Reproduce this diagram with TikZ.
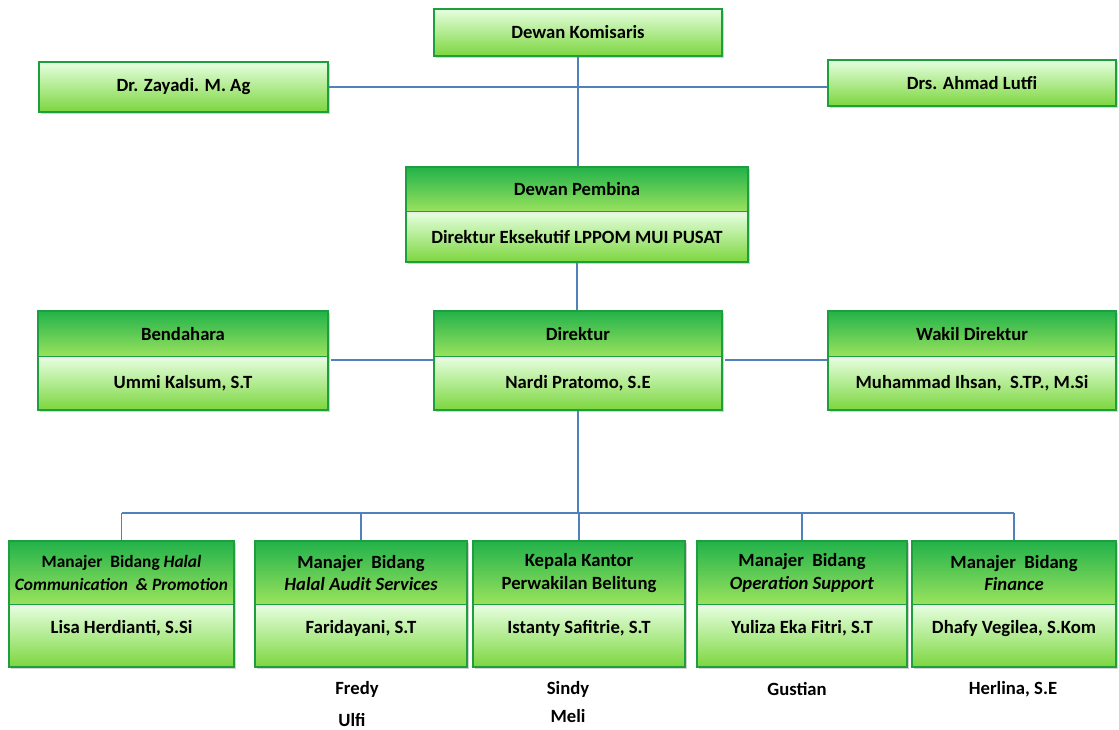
\documentclass[tikz,border=0pt]{standalone}
\usepackage{fontspec}
\setmainfont{Carlito}
\usetikzlibrary{shadows,backgrounds}

\definecolor{boxedge}{HTML}{1E9E3C}
\definecolor{hdtop}{HTML}{22B24A}
\definecolor{hdbot}{HTML}{9BE35E}
\definecolor{bdtop}{HTML}{E6FFE0}
\definecolor{bdbot}{HTML}{7CD63E}
\definecolor{linkblue}{HTML}{4F81BD}

\tikzset{
  box/.style={draw=boxedge, line width=0.9pt, inner sep=1pt, align=center,
    font=\bfseries\fontsize{14}{17}\selectfont,
    drop shadow={shadow xshift=1.2pt, shadow yshift=-1.2pt, opacity=0.35}},
  head/.style={box, top color=hdtop, bottom color=hdbot},
  body/.style={box, top color=bdtop, bottom color=bdbot},
  link/.style={draw=linkblue, line width=0.8pt},
  staff/.style={font=\bfseries\fontsize{14}{17}\selectfont, inner sep=0pt},
  raise/.style={text height=10pt, text depth=14pt},
}

\begin{document}
\begin{tikzpicture}[x=0.75pt, y=-0.75pt]
\useasboundingbox (0,0) rectangle (1119,729);

% top level
\node[body, minimum width=0.75*288pt, minimum height=0.75*47pt] (kom) at (578,32.5) {Dewan Komisaris};
\node[body, minimum width=0.75*289pt, minimum height=0.75*50pt] (zay) at (183.5,87) {Dr. Zayadi. M. Ag};
\node[body, minimum width=0.75*288pt, minimum height=0.75*46pt] (lut) at (972,83) {Drs. Ahmad Lutfi};

% advisory board
\node[head, minimum width=0.75*342pt, minimum height=0.75*45pt] (pembH) at (577,189.5) {Dewan Pembina};
\node[body, minimum width=0.75*342pt, minimum height=0.75*50pt] (pembB) at (577,237) {Direktur Eksekutif LPPOM MUI PUSAT};

% directors
\node[head, minimum width=0.75*290pt, minimum height=0.75*46pt] (benH) at (183,334) {Bendahara};
\node[body, minimum width=0.75*290pt, minimum height=0.75*53pt] (benB) at (183,383.5) {Ummi Kalsum, S.T};
\node[head, minimum width=0.75*288pt, minimum height=0.75*46pt] (dirH) at (578,334) {Direktur};
\node[body, minimum width=0.75*288pt, minimum height=0.75*53pt] (dirB) at (578,383.5) {Nardi Pratomo, S.E};
\node[head, minimum width=0.75*288pt, minimum height=0.75*46pt] (wakH) at (972,334) {Wakil Direktur};
\node[body, minimum width=0.75*288pt, minimum height=0.75*53pt] (wakB) at (972,383.5) {Muhammad Ihsan,\ \ S.TP., M.Si};

% managers
\node[head, minimum width=0.75*225pt, minimum height=0.75*64pt, font=\bfseries\fontsize{13}{17}\selectfont] (m1H) at (121.5,573)
  {Manajer\ \ Bidang \textit{Halal}\\\textit{Communication\ \ \& Promotion}};
\node[body, raise, minimum width=0.75*225pt, minimum height=0.75*62pt] (m1B) at (121.5,636) {Lisa Herdianti, S.Si};
\node[head, minimum width=0.75*212pt, minimum height=0.75*64pt] (m2H) at (361,573)
  {Manajer\ \ Bidang\\\textit{Halal Audit Services}};
\node[body, raise, minimum width=0.75*212pt, minimum height=0.75*62pt] (m2B) at (361,636) {Faridayani, S.T};
\node[head, minimum width=0.75*212pt, minimum height=0.75*64pt] (m3H) at (579,573)
  {Kepala Kantor\\Perwakilan Belitung};
\node[body, raise, minimum width=0.75*212pt, minimum height=0.75*62pt] (m3B) at (579,636) {Istanty Safitrie, S.T};
\node[head, minimum width=0.75*210pt, minimum height=0.75*64pt] (m4H) at (802,573)
  {Manajer\ \ Bidang\\\textit{Operation Support}};
\node[body, raise, minimum width=0.75*210pt, minimum height=0.75*62pt] (m4B) at (802,636) {Yuliza Eka Fitri, S.T};
\node[head, minimum width=0.75*204pt, minimum height=0.75*64pt] (m5H) at (1014,573)
  {Manajer\ \ Bidang\\\textit{Finance}};
\node[body, raise, minimum width=0.75*204pt, minimum height=0.75*62pt] (m5B) at (1014,636) {Dhafy Vegilea, S.Kom};

% staff names
\node[staff] (s1) at (357,689) {Fredy};
\node[staff] (s2) at (352,720) {Ulfi};
\node[staff] (s3) at (568,689) {Sindy};
\node[staff] (s4) at (568,716) {Meli};
\node[staff] (s5) at (797,689) {Gustian};
\node[staff] (s6) at (1013,689) {Herlina, S.E};

% pale divider between the two parts of each box
\foreach \h/\b in {pembH/pembB, benH/benB, dirH/dirB, wakH/wakB, m1H/m1B, m2H/m2B, m3H/m3B, m4H/m4B, m5H/m5B}
  \draw[white!85!gray, line width=1.6pt] ([xshift=1pt]\h.south west) -- ([xshift=-1pt]\h.south east);

\coordinate (bus) at (576,513);

% the side link runs just below the shadow of the header boxes
\draw[link] ([xshift=1.5pt, yshift=-1.8pt]benH.south east) -- ([xshift=-0.5pt, yshift=-1.8pt]dirH.south west);
\draw[link] ([xshift=1.5pt, yshift=-1.8pt]dirH.south east) -- ([xshift=-0.5pt, yshift=-1.8pt]wakH.south west);

\begin{scope}[on background layer]
  \draw[link] (kom.south) -- (kom.south |- pembH.north);
  \draw[link] (zay.east) -- (zay.east -| lut.west);
  \draw[link] (pembB.south) -- (pembB.south |- dirH.north);
  \draw[link] (dirB.south) -- (dirB.south |- bus);
  \draw[link] (m1H.north |- bus) -- (m5H.north |- bus);
  \foreach \m in {m1H, m2H, m3H, m4H, m5H}
    \draw[link] (\m.north |- bus) -- (\m.north);
\end{scope}
\end{tikzpicture}
\end{document}
